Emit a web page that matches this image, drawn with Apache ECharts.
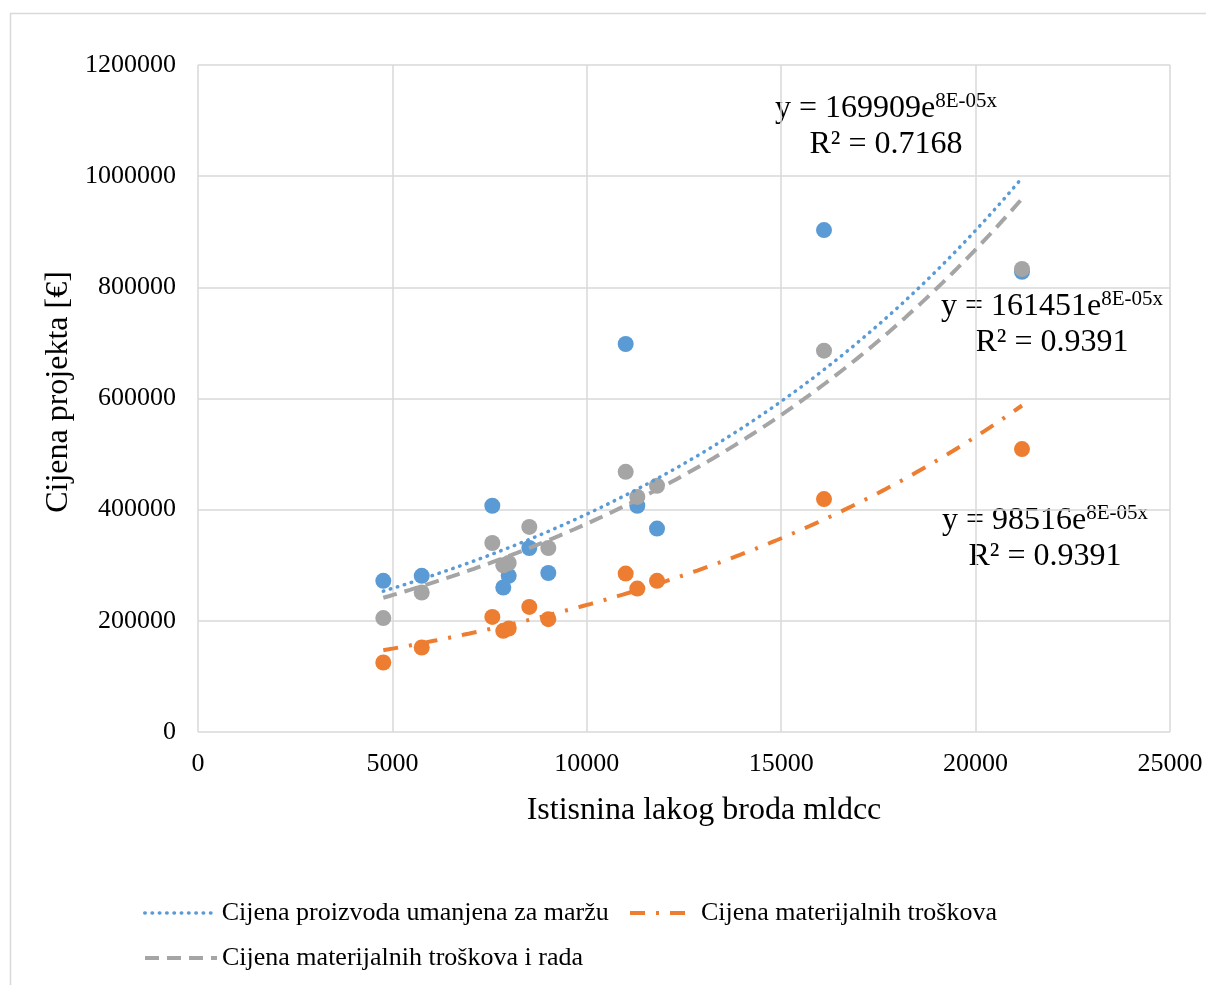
<!DOCTYPE html>
<html>
<head>
<meta charset="utf-8">
<script src="https://cdn.jsdelivr.net/npm/echarts@6/dist/echarts.min.js"></script>
<style>
html,body{margin:0;padding:0;background:#fff;}
#chart{width:1206px;height:985px;}
</style>
</head>
<body>
<div id="chart"></div>
<script>
// ---- data ----
var xValues = [4766, 5754, 7570, 7852, 7991, 8521, 9010, 11000, 11299, 11806, 16101, 21193];
var proizvodValues = [272000, 281000, 407000, 260000, 281000, 331000, 286000, 698000, 407000, 366000, 903000, 828000];
var materijalValues = [125000, 152000, 207000, 182000, 186000, 225000, 203000, 285000, 258000, 272000, 419000, 509000];
var materijalRadValues = [205000, 251000, 340000, 300000, 304000, 369000, 331000, 468000, 423000, 443000, 686000, 833000];
var seriesNames = ['Cijena proizvoda umanjena za maržu', 'Cijena materijalnih troškova', 'Cijena materijalnih troškova i rada'];
var xTicks = [0, 5000, 10000, 15000, 20000, 25000];
var yTicks = [0, 200000, 400000, 600000, 800000, 1000000, 1200000];
var equations = [
  ['169909', '0.7168'],
  ['161451', '0.9391'],
  ['98516', '0.9391']
];

var FONT = '"Liberation Serif", "Times New Roman", serif';
var BLUE = '#5B9BD5', ORANGE = '#ED7D31', GREY = '#A5A5A5';

function pairs(xs, ys) { return xs.map(function (x, i) { return [x, ys[i]]; }); }

// exponential trendline (least squares on ln y), as the spreadsheet does
function expTrend(xs, ys) {
  var n = xs.length, mx = 0, my = 0, i;
  var ly = ys.map(function (v) { return Math.log(v); });
  for (i = 0; i < n; i++) { mx += xs[i]; my += ly[i]; }
  mx /= n; my /= n;
  var sxy = 0, sxx = 0;
  for (i = 0; i < n; i++) { sxy += (xs[i] - mx) * (ly[i] - my); sxx += (xs[i] - mx) * (xs[i] - mx); }
  var b = sxy / sxx, a = Math.exp(my - b * mx);
  var lo = Math.min.apply(null, xs), hi = Math.max.apply(null, xs);
  var out = [], steps = 120;
  for (i = 0; i <= steps; i++) { var x = lo + (hi - lo) * i / steps; out.push([x, a * Math.exp(b * x)]); }
  return out;
}

var chart = echarts.init(document.getElementById('chart'), null, { renderer: 'canvas' });

function scatter(name, ys, color, z) {
  return { name: name, type: 'scatter', data: pairs(xValues, ys), symbol: 'circle', symbolSize: 16,
    itemStyle: { color: color, opacity: 1 }, z: z, silent: true };
}
var BLUE_DASH = [0.5, 6.8], ORANGE_DASH = [15, 11, 3, 11], GREY_DASH = [14, 8];
function trend(name, ys, color, dash, width, cap) {
  return { name: name, type: 'line', data: expTrend(xValues, ys), symbol: 'none', smooth: false,
    lineStyle: { color: color, width: width, type: dash, cap: cap || 'butt' }, itemStyle: { color: color }, z: 10, silent: true };
}

var legendText = { fontFamily: FONT, fontSize: 26, color: '#000' };
var legendItemStyle = { color: 'rgba(0,0,0,0)', opacity: 0, borderWidth: 0 };
function legend(name, left, top, w, width) {
  return { data: [name], left: left, top: top, itemWidth: w, itemHeight: 28, itemGap: 0, padding: 0,
    textStyle: legendText, itemStyle: legendItemStyle, lineStyle: { width: width }, selectedMode: false };
}

function eqText(i, cx, top) {
  return { type: 'text', x: cx, y: top, silent: true,
    style: {
      text: '{b|y = ' + equations[i][0] + 'e}{s|8E-05x}\n{b|R² = ' + equations[i][1] + '}',
      align: 'center', verticalAlign: 'top',
      rich: {
        b: { fontFamily: FONT, fontSize: 32, lineHeight: 36, fill: '#000', color: '#000' },
        s: { fontFamily: FONT, fontSize: 21, lineHeight: 26, verticalAlign: 'top', fill: '#000', color: '#000' }
      }
    } };
}

function plain(v) { return String(v); }

var option = {
  animation: false,
  backgroundColor: '#fff',
  grid: { left: 198, right: 36, top: 65, bottom: 253, containLabel: false },
  xAxis: {
    type: 'value', min: xTicks[0], max: xTicks[xTicks.length - 1], interval: 5000,
    axisLine: { show: false }, axisTick: { show: false },
    splitLine: { show: true, lineStyle: { color: '#D9D9D9', width: 1.5 } },
    axisLabel: { fontFamily: FONT, fontSize: 26, color: '#000', margin: 19, formatter: plain }
  },
  yAxis: {
    type: 'value', min: yTicks[0], max: yTicks[yTicks.length - 1], interval: 200000,
    axisLine: { show: false }, axisTick: { show: false },
    splitLine: { show: true, lineStyle: { color: '#D9D9D9', width: 1.5 } },
    axisLabel: { fontFamily: FONT, fontSize: 26, color: '#000', margin: 22, formatter: plain }
  },
  legend: [
    legend(seriesNames[0], 143, 900, 72, 3.5),
    legend(seriesNames[1], 628, 900, 66, 4),
    legend(seriesNames[2], 143, 945, 72, 4)
  ],
  series: [
    scatter('pts-proizvod', proizvodValues, BLUE, 2),
    scatter('pts-materijal', materijalValues, ORANGE, 3),
    scatter('pts-materijal-rad', materijalRadValues, GREY, 4),
    trend(seriesNames[0], proizvodValues, BLUE, BLUE_DASH, 3.5, 'round'),
    trend(seriesNames[1], materijalValues, ORANGE, ORANGE_DASH, 4, 'butt'),
    trend(seriesNames[2], materijalRadValues, GREY, GREY_DASH, 4, 'butt')
  ],
  graphic: [
    { type: 'rect', silent: true, shape: { x: 10.5, y: 13.5, width: 1300, height: 1100 },
      style: { fill: null, stroke: '#D9D9D9', lineWidth: 1.5 }, z: -10 },
    { type: 'text', x: 704, y: 811, silent: true,
      style: { text: 'Istisnina lakog broda mldcc', fontFamily: FONT, fontSize: 32, fill: '#000', align: 'center', verticalAlign: 'middle' } },
    { type: 'text', x: 59, y: 392, rotation: Math.PI / 2, silent: true,
      style: { text: 'Cijena projekta [€]', fontFamily: FONT, fontSize: 32, fill: '#000', align: 'center', verticalAlign: 'middle' } },
    eqText(0, 886, 91),
    eqText(1, 1052, 289),
    eqText(2, 1045, 503)
  ]
};
chart.setOption(option);
</script>
</body>
</html>
